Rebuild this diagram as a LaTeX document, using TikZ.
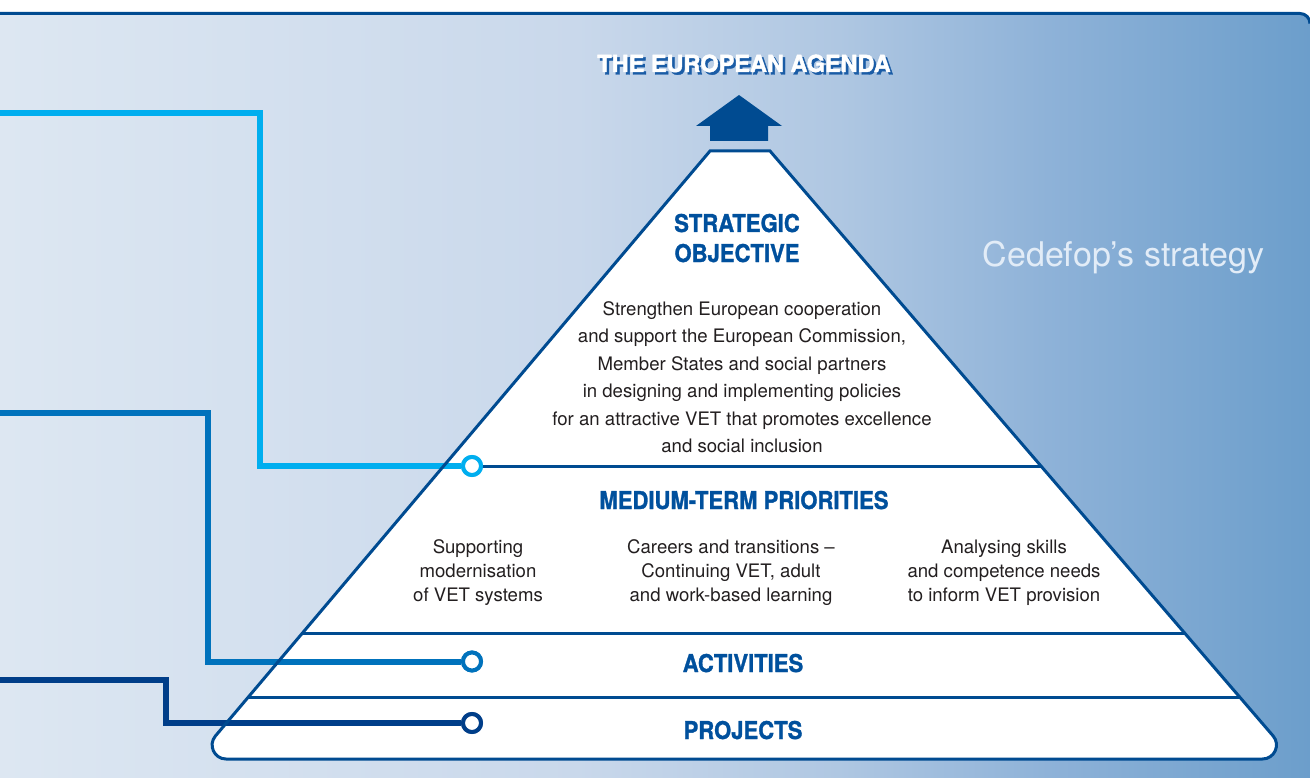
\documentclass[tikz,border=0pt]{standalone}
\usepackage{fontspec}
\setmainfont{TeX Gyre Heros}
\newfontfamily\headfont[FakeStretch=0.9,FakeBold=1.2]{TeX Gyre Heros}
\newfontfamily\titlefont[FakeBold=1.8]{TeX Gyre Heros}
\usetikzlibrary{calc}

\definecolor{bgA}{RGB}{221,231,242}
\definecolor{bgB}{RGB}{201,216,235}
\definecolor{bgC}{RGB}{175,199,226}
\definecolor{bgD}{RGB}{142,178,216}
\definecolor{bgE}{RGB}{108,158,203}
\definecolor{pyrblue}{RGB}{0,75,145}
\definecolor{headblue}{RGB}{0,80,157}
\definecolor{cyanline}{RGB}{0,174,239}
\definecolor{midline}{RGB}{0,114,188}
\definecolor{navyline}{RGB}{0,62,137}
\definecolor{shadowblue}{RGB}{26,92,166}
\definecolor{bodytext}{RGB}{35,31,32}
\definecolor{paletext}{RGB}{226,236,247}

\pgfdeclarehorizontalshading{bgshade}{100bp}{color(0bp)=(bgA); color(25bp)=(bgA); color(47bp)=(bgB); color(57bp)=(bgC); color(65bp)=(bgD); color(75bp)=(bgE); color(100bp)=(bgE)}

\tikzset{
  edge/.style={draw=pyrblue, line width=3pt},
  sepline/.style={draw=pyrblue, line width=3pt},
  connector/.style={line width=6pt},
  endring/.style={circle, draw=#1, fill=white, line width=4pt, minimum size=18pt, inner sep=0pt},
  heading/.style={font=\headfont\bfseries\fontsize{24.5}{28}\selectfont, text=headblue, anchor=base, inner sep=0pt},
  titletext/.style={font=\titlefont\bfseries\fontsize{23.5}{27}\selectfont, anchor=base, inner sep=0pt},
  body/.style={font=\fontsize{18.6}{24}\selectfont, text=bodytext, align=center, inner sep=0pt},
}

\begin{document}
\begin{tikzpicture}[x=1pt,y=-1pt]
\useasboundingbox (0,0) rectangle (1310,778);
\fill[white] (0,0) rectangle (1310,778);

% panel background with rounded top-right corner
\fill[shading=bgshade] (0,778) -- (0,13.5) -- (1300,13.5)
  .. controls (1305.5,13.5) and (1310,18) .. (1310,23.5) -- (1310,778) -- cycle;
\draw[draw=pyrblue, line width=3pt] (0,13.5) -- (1300,13.5)
  .. controls (1305.5,13.5) and (1310,18) .. (1310,23.5);

% pyramid outline coordinates
\coordinate (TL) at (710,151);
\coordinate (TR) at (770,151);

% pyramid body
\fill[white] (TL) -- (TR) -- (1273.1,735.9)
  .. controls (1280.9,744.9) and (1274.4,759) .. (1262.5,759) -- (226,759)
  .. controls (214.2,759) and (207.8,745) .. (215.4,736) -- cycle;

% band separators
\coordinate (s1l) at (443.5,466);  \coordinate (s1r) at (1041.2,466);
\coordinate (s2l) at (302.2,633);  \coordinate (s2r) at (1185.0,633);
\coordinate (s3l) at (248.1,697);  \coordinate (s3r) at (1240.1,697);
\draw[sepline] (s1l) -- (s1r);
\draw[sepline] (s2l) -- (s2r);
\draw[sepline] (s3l) -- (s3r);

% connector end rings
\node[endring=cyanline] (ring1) at (472,466) {};
\node[endring=midline]  (ring2) at (472,661.5) {};
\node[endring=navyline] (ring3) at (472,723) {};

% connectors from the left margin
\coordinate (in1) at (0,113.5);
\coordinate (in2) at (0,412.5);
\coordinate (in3) at (0,680);
\draw[connector, draw=cyanline] (in1) -- (260,113.5) |- (ring1);
\draw[connector, draw=midline]  (in2) -- (208,412.5) |- (ring2);
\draw[connector, draw=navyline] (in3) -- (166,680) |- (ring3);

% pyramid outline on top
\draw[edge] (TL) -- (TR) -- (1273.1,735.9)
  .. controls (1280.9,744.9) and (1274.4,759) .. (1262.5,759) -- (226,759)
  .. controls (214.2,759) and (207.8,745) .. (215.4,736) -- cycle;

% rings redrawn over the outline
\node[endring=cyanline] at (ring1) {};
\node[endring=midline]  at (ring2) {};
\node[endring=navyline] at (ring3) {};

% arrow to the agenda
\fill[pyrblue] (696,126) -- (739,95) -- (782,126) -- (768,126) -- (768,141)
  -- (710,141) -- (710,126) -- cycle;

% titles
\node[titletext, text=shadowblue] (titleshadow) at (746.5,74.5) {THE EUROPEAN AGENDA};
\node[titletext, text=white] (title) at (744,72) {THE EUROPEAN AGENDA};
\node[font=\fontsize{34}{40}\selectfont, text=paletext, anchor=base, inner sep=0pt]
  (strategy) at (1123.5,267) {Cedefop’s strategy};

% band headings
\node[heading] (strat) at (737,232) {STRATEGIC};
\node[heading] (obj) at (737,262) {OBJECTIVE};
\node[heading] (mtp) at (744,509) {MEDIUM-TERM PRIORITIES};
\node[heading] (act) at (743,672) {ACTIVITIES};
\node[heading] (proj) at (743,739) {PROJECTS};

% band texts
\node[body, font=\fontsize{18.6}{27.5}\selectfont] (objtext) at (742,377) {Strengthen European cooperation\\
  and support the European Commission,\\
  Member States and social partners\\
  in designing and implementing policies\\
  for an attractive VET that promotes excellence\\
  and social inclusion};
\node[body] (prio1) at (478,573) {Supporting\\modernisation\\of VET systems};
\node[body] (prio2) at (731,573) {Careers and transitions –\\Continuing VET, adult\\and work-based learning};
\node[body] (prio3) at (1004,573) {Analysing skills\\and competence needs\\to inform VET provision};
\end{tikzpicture}
\end{document}
